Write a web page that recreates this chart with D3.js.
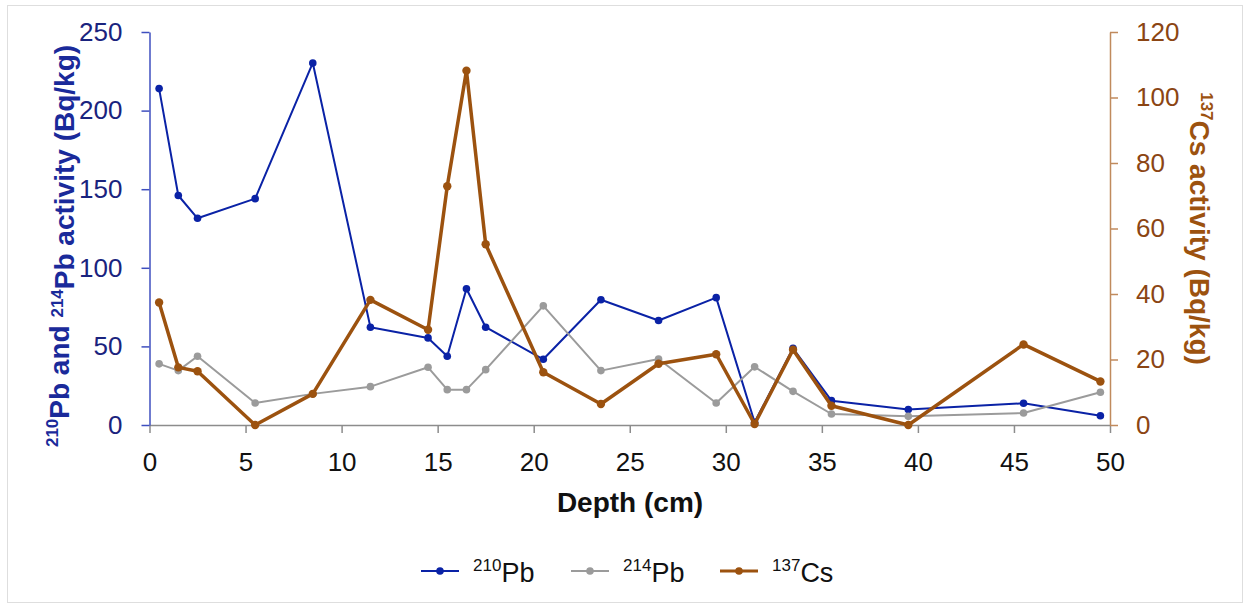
<!DOCTYPE html>
<html>
<head>
<meta charset="utf-8">
<script src="https://cdn.jsdelivr.net/npm/d3@7"></script>
<style>
  body { margin: 0; background: #fff; }
  text { font-family: "Liberation Sans", Arial, sans-serif; }
</style>
</head>
<body>
<script>
// depth of each sample (cm)
var depths = [0.5, 1.5, 2.5, 5.5, 8.5, 11.5, 14.5, 15.5, 16.5, 17.5, 20.5, 23.5, 26.5, 29.5, 31.5, 33.5, 35.5, 39.5, 45.5, 49.5];
var pb210 = [214, 146, 131.5, 144, 230.3, 62.2, 55.4, 43.7, 86.7, 62.2, 41.8, 79.7, 66.5, 81, 1.7, 48.8, 15.5, 9.8, 13.8, 5.9];
var pb214 = [38.9, 34.6, 43.7, 14, 19.8, 24.4, 36.7, 22.5, 22.5, 35.2, 75.8, 34.6, 42, 14, 37, 21.4, 7, 5.5, 7.6, 20.8];
var cs137 = [37.4, 17.6, 16.4, 0, 9.5, 38.2, 29.1, 72.9, 108.2, 55.2, 16.1, 6.4, 18.7, 21.6, 0.3, 23, 5.9, 0, 24.6, 13.3];

var xTicks = [0, 5, 10, 15, 20, 25, 30, 35, 40, 45, 50];
var leftTicks = [0, 50, 100, 150, 200, 250];
var rightTicks = [0, 20, 40, 60, 80, 100, 120];

var W = 1249, H = 607;
var margin = {top: 32, right: 139, bottom: 182, left: 149.5};
var width = W - margin.left - margin.right,
    height = H - margin.top - margin.bottom;

var blue = "#0a22a6", grey = "#9b9b9b", brown = "#9c520f";

var svg = d3.select("body").append("svg")
  .attr("width", W).attr("height", H);

svg.append("rect")
  .attr("x", 7.5).attr("y", 5.5).attr("width", W - 14).attr("height", H - 10)
  .attr("fill", "#fff").attr("stroke", "#dedede");

var g = svg.append("g")
  .attr("transform", "translate(" + margin.left + "," + margin.top + ")");

var x = d3.scaleLinear().domain([0, 50]).range([0, width]);
var yL = d3.scaleLinear().domain([0, 250]).range([height, 0]);
var yR = d3.scaleLinear().domain([0, 120]).range([height, 0]);

// x axis
var xAxis = g.append("g")
  .attr("transform", "translate(0," + height + ")")
  .call(d3.axisBottom(x).tickValues(xTicks).tickSize(8).tickPadding(20).tickSizeOuter(0));
xAxis.select(".domain").attr("stroke", "#8c8c8c").attr("stroke-width", 1.5);
xAxis.selectAll(".tick line").attr("stroke", "#8c8c8c").attr("stroke-width", 1.5);
xAxis.selectAll(".tick text").attr("fill", "#111").style("font-size", "26px");

// left axis
var lAxis = g.append("g")
  .call(d3.axisLeft(yL).tickValues(leftTicks).tickSize(8).tickPadding(19).tickSizeOuter(0));
lAxis.select(".domain").attr("stroke", "#3f4fbf").attr("stroke-width", 1.5);
lAxis.selectAll(".tick line").attr("stroke", "#3f4fbf").attr("stroke-width", 1.5);
lAxis.selectAll(".tick text").attr("fill", "#1a237e").style("font-size", "26px");

// right axis
var rAxis = g.append("g")
  .attr("transform", "translate(" + width + ",0)")
  .call(d3.axisRight(yR).tickValues(rightTicks).tickSize(8).tickPadding(18).tickSizeOuter(0));
rAxis.select(".domain").attr("stroke", "#c08a5c").attr("stroke-width", 1.5);
rAxis.selectAll(".tick line").attr("stroke", "#c08a5c").attr("stroke-width", 1.5);
rAxis.selectAll(".tick text").attr("fill", "#8b4513").style("font-size", "26px");

function series(vals, yScale, color, lw, r) {
  var pts = depths.map(function(d, i) { return [d, vals[i]]; });
  var line = d3.line().x(function(d) { return x(d[0]); }).y(function(d) { return yScale(d[1]); });
  g.append("path").datum(pts)
    .attr("fill", "none").attr("stroke", color).attr("stroke-width", lw)
    .attr("stroke-linejoin", "round").attr("d", line);
  g.append("g").selectAll("circle").data(pts).enter().append("circle")
    .attr("cx", function(d) { return x(d[0]); })
    .attr("cy", function(d) { return yScale(d[1]); })
    .attr("r", r).attr("fill", color);
}

series(pb210, yL, blue, 2, 3.8);
series(pb214, yL, grey, 2, 3.8);
series(cs137, yR, brown, 3.5, 4.2);

// axis titles
g.append("text")
  .attr("x", (557 + 703) / 2 - margin.left).attr("y", 511.5 - margin.top)
  .attr("text-anchor", "middle")
  .style("font-size", "28px").style("font-weight", "bold").attr("fill", "#111")
  .text("Depth (cm)");

var lt = svg.append("text")
  .attr("transform", "translate(65,246) rotate(-90)")
  .attr("text-anchor", "middle")
  .style("font-size", "28px").style("font-weight", "bold").attr("fill", "#1a2a9a");
lt.append("tspan").attr("dy", "-0.4em").style("font-size", "17px").text("210");
lt.append("tspan").attr("dy", "0.4em").text("Pb and ");
lt.append("tspan").attr("dy", "-0.4em").style("font-size", "17px").text("214");
lt.append("tspan").attr("dy", "0.4em").text("Pb activity (Bq/kg)");

var rt = svg.append("text")
  .attr("transform", "translate(1194,228.5) rotate(90)")
  .attr("text-anchor", "middle")
  .style("font-size", "28px").style("font-weight", "bold").attr("fill", "#9c520f");
rt.append("tspan").attr("dy", "-0.4em").style("font-size", "17px").text("137");
rt.append("tspan").attr("dy", "0.4em").text("Cs activity (Bq/kg)");

// legend
var legendItems = [
  {sup: "210", name: "Pb", color: blue, lw: 2, x: 421},
  {sup: "214", name: "Pb", color: grey, lw: 2, x: 571},
  {sup: "137", name: "Cs", color: brown, lw: 3, x: 720}
];
var leg = svg.append("g");
legendItems.forEach(function(it) {
  var lg = leg.append("g").attr("transform", "translate(" + it.x + ",571)");
  lg.append("line").attr("x1", 0).attr("x2", 38).attr("stroke", it.color).attr("stroke-width", it.lw);
  lg.append("circle").attr("cx", 19).attr("r", 3.8).attr("fill", it.color);
  var t = lg.append("text").attr("x", 52).attr("y", 6.5).style("font-size", "27px").attr("fill", "#111");
  t.append("tspan").attr("dy", "-0.4em").style("font-size", "17px").text(it.sup);
  t.append("tspan").attr("dy", "0.4em").text(it.name);
});
</script>
</body>
</html>
